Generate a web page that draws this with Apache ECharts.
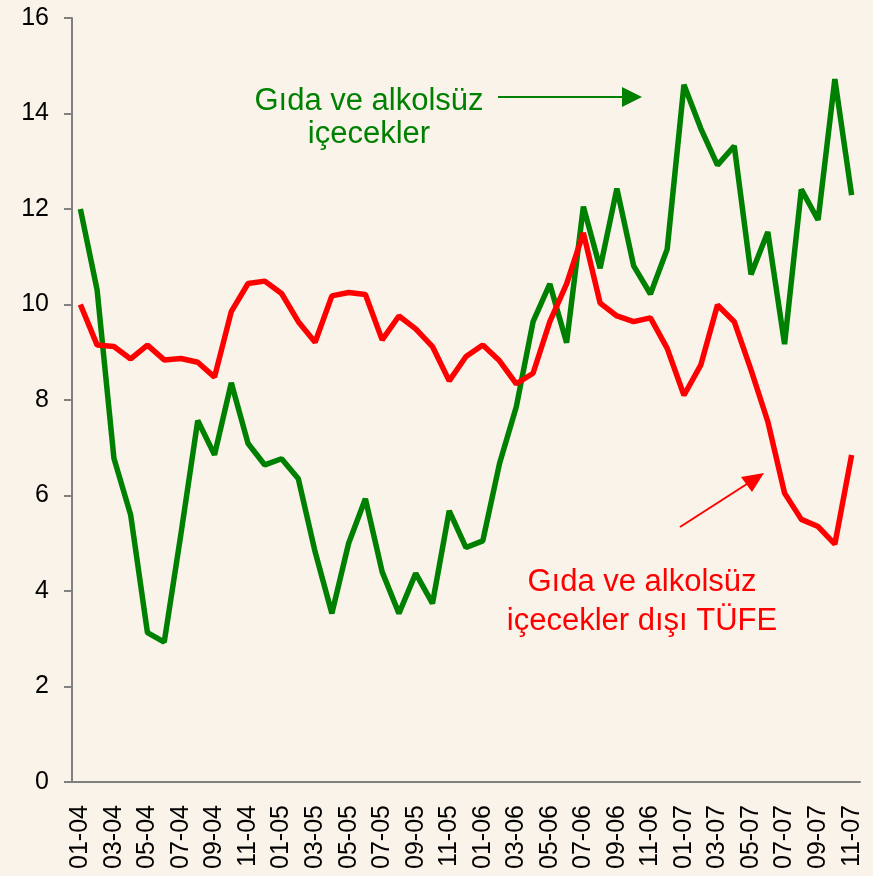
<!DOCTYPE html>
<html>
<head>
<meta charset="utf-8">
<script src="https://cdn.jsdelivr.net/npm/echarts@6/dist/echarts.min.js"></script>
<style>
  html, body { margin: 0; padding: 0; background: #f9f3e9; }
  #main { width: 873px; height: 876px; }
</style>
</head>
<body>
<div id="main"></div>
<script>
// aylar: 01-04 .. 11-07
var months = [];
for (var y = 4; y <= 7; y++) {
  for (var m = 1; m <= 12; m++) {
    if (y === 7 && m > 11) break;
    months.push((m < 10 ? '0' + m : '' + m) + '-0' + y);
  }
}

// Gıda ve alkolsüz içecekler (yıllık % değişim)
var gida = [12.0, 10.3, 6.78, 5.59, 3.13, 2.93, 5.2, 7.57, 6.85, 8.36,
  7.09, 6.64, 6.77, 6.35, 4.82, 3.53, 5.0, 5.93, 4.40, 3.53,
  4.37, 3.74, 5.68, 4.91, 5.05, 6.67, 7.86, 9.64, 10.43, 9.2,
  12.05, 10.76, 12.43, 10.81, 10.22, 11.16, 14.6, 13.69, 12.92, 13.32,
  10.63, 11.52, 9.17, 12.41, 11.77, 14.72, 12.29];

// Gıda ve alkolsüz içecekler dışı TÜFE
var gidaDisi = [10.0, 9.15, 9.12, 8.86, 9.15, 8.84, 8.87, 8.79, 8.48, 9.85,
  10.44, 10.49, 10.23, 9.64, 9.21, 10.18, 10.25, 10.21, 9.26, 9.76,
  9.49, 9.12, 8.40, 8.91, 9.15, 8.82, 8.34, 8.56, 9.64, 10.43,
  11.5, 10.03, 9.76, 9.64, 9.72, 9.08, 8.10, 8.73, 9.99, 9.64,
  8.63, 7.55, 6.05, 5.50, 5.35, 4.98, 6.85];

var FONT = '"Liberation Sans", Arial, sans-serif';
var axisGray = '#808080';

var myChart = echarts.init(document.getElementById('main'));
myChart.setOption({
  backgroundColor: '#f9f3e9',
  animation: false,
  grid: { left: 72, right: 13, top: 18, bottom: 94 },
  xAxis: {
    type: 'category',
    data: months,
    boundaryGap: true,
    axisLine: { lineStyle: { color: axisGray, width: 2 } },
    axisTick: { interval: 1, length: 8, lineStyle: { color: axisGray, width: 2 } },
    axisLabel: {
      interval: 1,
      rotate: 90,
      margin: 23,
      fontSize: 25,
      fontFamily: FONT,
      color: '#000'
    }
  },
  yAxis: {
    type: 'value',
    min: 0,
    max: 16,
    interval: 2,
    splitLine: { show: false },
    axisLine: { show: true, lineStyle: { color: axisGray, width: 2 } },
    axisTick: { show: true, length: 8, lineStyle: { color: axisGray, width: 2 } },
    axisLabel: { margin: 23, fontSize: 25, fontFamily: FONT, color: '#000' }
  },
  series: [
    {
      name: 'Gıda ve alkolsüz içecekler',
      type: 'line',
      data: gida,
      showSymbol: false,
      lineStyle: { color: '#008000', width: 5.5 },
      itemStyle: { color: '#008000' }
    },
    {
      name: 'Gıda ve alkolsüz içecekler dışı TÜFE',
      type: 'line',
      data: gidaDisi,
      showSymbol: false,
      lineStyle: { color: '#ff0000', width: 5.5 },
      itemStyle: { color: '#ff0000' }
    }
  ],
  // etiketler ve oklar
  graphic: [
    { type: 'text', x: 369, y: 101, style: { text: 'Gıda ve alkolsüz', fill: '#008000', fontSize: 31, fontFamily: FONT, align: 'center', verticalAlign: 'middle' } },
    { type: 'text', x: 369, y: 134, style: { text: 'içecekler', fill: '#008000', fontSize: 31, fontFamily: FONT, align: 'center', verticalAlign: 'middle' } },
    { type: 'line', shape: { x1: 498, y1: 97, x2: 624, y2: 97 }, style: { stroke: '#008000', lineWidth: 2 } },
    { type: 'polygon', shape: { points: [[642, 97], [622, 87], [622, 107]] }, style: { fill: '#008000' } },

    { type: 'text', x: 642, y: 582, style: { text: 'Gıda ve alkolsüz', fill: '#ff0000', fontSize: 31, fontFamily: FONT, align: 'center', verticalAlign: 'middle' } },
    { type: 'text', x: 642, y: 621, style: { text: 'içecekler dışı TÜFE', fill: '#ff0000', fontSize: 31, fontFamily: FONT, align: 'center', verticalAlign: 'middle' } },
    { type: 'line', shape: { x1: 680, y1: 527, x2: 750, y2: 482 }, style: { stroke: '#ff0000', lineWidth: 2 } },
    { type: 'polygon', shape: { points: [[764, 473], [741, 477], [752, 492]] }, style: { fill: '#ff0000' } }
  ]
});
</script>
</body>
</html>
